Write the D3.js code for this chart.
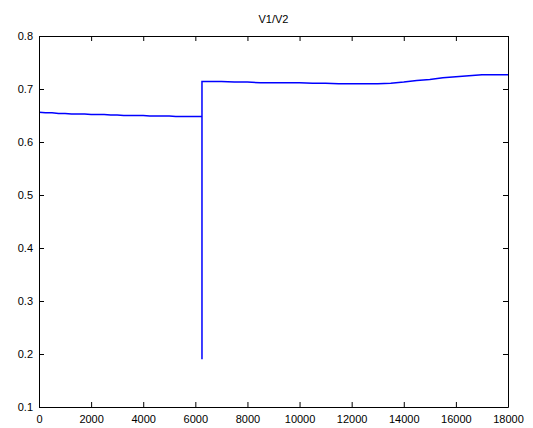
<!DOCTYPE html>
<html>
<head>
<meta charset="utf-8">
<script src="https://cdn.jsdelivr.net/npm/d3@7"></script>
<style>
  body { margin: 0; background: #fff; }
  text { font-family: "Liberation Sans", Arial, sans-serif; }
</style>
</head>
<body>
<svg id="chart" width="533" height="428"></svg>
<script>
const title = 'V1/V2';
const xTicks = [0, 2000, 4000, 6000, 8000, 10000, 12000, 14000, 16000, 18000];
const yTicks = [0.1, 0.2, 0.3, 0.4, 0.5, 0.6, 0.7, 0.8];

// samples
const sampleX = [
    0, 250, 500, 750, 1000, 1250, 1500, 1750, 2000, 2250, 2500, 2750, 3000,
    3250, 3500, 3750, 4000, 4250, 4500, 4750, 5000, 5250, 5500, 5750, 6000,
    6255, 6255, 6255, 6500, 7000, 7500, 8000, 8500, 9000, 9500, 10000, 10500,
    11000, 11500, 12000, 12500, 13000, 13500, 14000, 14500, 15000, 15500,
    16000, 16500, 17000, 17500, 18000
];
const sampleY = [
    0.656, 0.655, 0.655, 0.654, 0.654, 0.653, 0.653, 0.653, 0.652, 0.652, 0.652, 0.651, 0.651,
    0.650, 0.650, 0.650, 0.650, 0.649, 0.649, 0.649, 0.649, 0.648, 0.648, 0.648, 0.648,
    0.648, 0.190, 0.714, 0.714, 0.714, 0.713, 0.713, 0.712, 0.712, 0.712, 0.712, 0.711,
    0.711, 0.710, 0.710, 0.710, 0.710, 0.711, 0.713, 0.716, 0.718, 0.721,
    0.723, 0.725, 0.727, 0.727, 0.727
];

const margin = { left: 39, top: 36, right: 25, bottom: 21 };
const width = 533 - margin.left - margin.right;
const height = 428 - margin.top - margin.bottom;

const xScale = d3.scaleLinear().domain([0, 18000]).range([0, width]);
const yScale = d3.scaleLinear().domain([0.1, 0.8]).range([height, 0]);

const svg = d3.select('#chart')
    .append('g')
    .attr('transform', `translate(${margin.left},${margin.top})`);

// title
svg.append('text')
    .attr('x', width / 2)
    .attr('y', -13)
    .attr('text-anchor', 'middle')
    .attr('font-size', '11px')
    .text(title);

// the line
const line = d3.line()
    .x((d, i) => xScale(sampleX[i]))
    .y((d) => yScale(d));

svg.append('path')
    .attr('d', line(sampleY))
    .attr('stroke', '#0000ff')
    .attr('stroke-width', 1.5)
    .attr('fill', 'none');

// axes with inward ticks on all four sides
const styleAxis = (g) => {
    g.select('.domain').attr('stroke', '#000');
    g.selectAll('line').attr('stroke', '#000');
    g.selectAll('text').attr('fill', '#000').attr('font-size', '11px');
};

svg.append('g')
    .attr('transform', `translate(0,${height})`)
    .call(d3.axisBottom(xScale).tickValues(xTicks).tickSize(-5).tickSizeOuter(0).tickPadding(8).tickFormat(d3.format('d')))
    .call(styleAxis);

svg.append('g')
    .call(d3.axisTop(xScale).tickValues(xTicks).tickSize(-5).tickSizeOuter(0).tickFormat(''))
    .call(styleAxis);

svg.append('g')
    .call(d3.axisLeft(yScale).tickValues(yTicks).tickSize(-5).tickSizeOuter(0).tickPadding(6).tickFormat(d3.format('.1f')))
    .call(styleAxis);

svg.append('g')
    .attr('transform', `translate(${width},0)`)
    .call(d3.axisRight(yScale).tickValues(yTicks).tickSize(-5).tickSizeOuter(0).tickFormat(''))
    .call(styleAxis);
</script>
</body>
</html>
